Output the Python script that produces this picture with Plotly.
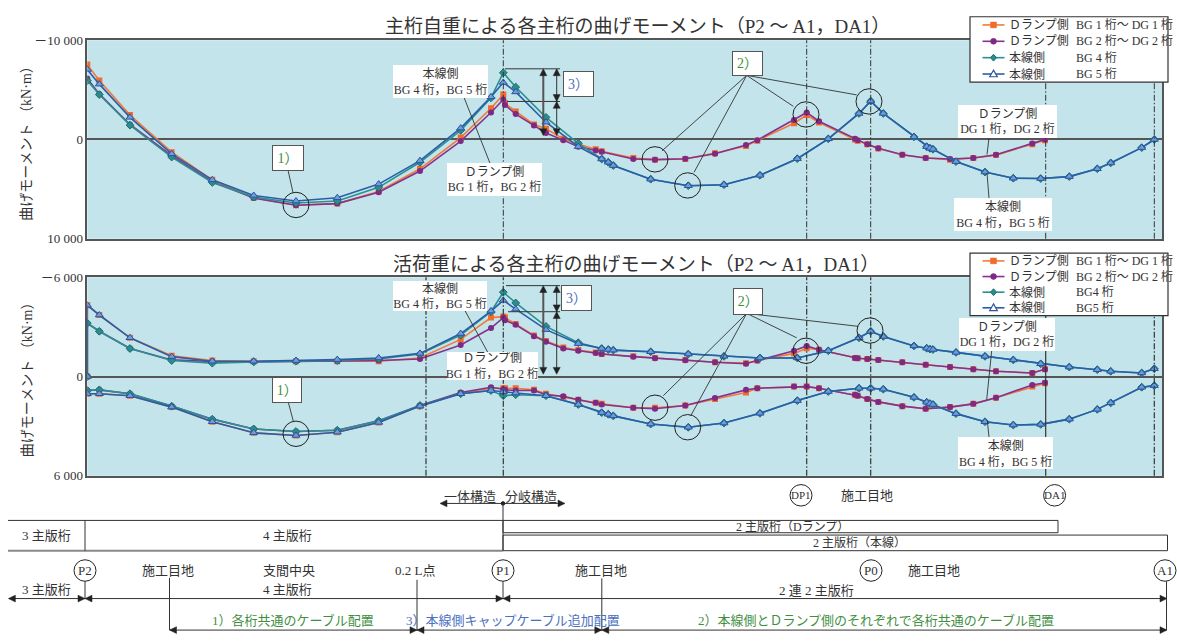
import plotly.graph_objects as go

W, H = 1177, 642
FONT = "Liberation Serif, 'Noto Sans CJK JP', serif"
TXT = "#333333"
GREEN = "#3f8f3f"
BLUE_T = "#4a70c0"

# ---------------- data (positions along the bridge) -------------
XD = [87.3, 99.3, 130, 171.7, 212.3, 253.7, 296, 337.3, 378.7, 420, 460.7, 491, 503.3, 505,
      515.7, 534, 546, 563.3, 578.3, 595.7, 601.7, 633.3, 655, 685.3, 715, 746, 757.3, 794,
      806.7, 819, 855, 857.7, 867.3, 878.3, 902.3, 925.7, 950, 973.3, 996, 1032.3, 1045]
XM = [87.3, 99.3, 130, 171.7, 212.3, 253.7, 296, 337.3, 378.7, 420, 460.7, 491, 503.3, 515.7,
      546, 578.3, 601.7, 608.3, 613.3, 650.7, 688.3, 724, 760, 797.3, 828.3, 859, 870.7, 883.3,
      914, 926.7, 930, 933, 956, 985, 1013.3, 1040.7, 1069.3, 1097.3, 1110.7, 1141.7, 1154.3]

# dead load (main girder self weight) bending moment, kN·m
DL_BG1 = [-7541, -5934, -2459, 1279, 4066, 5869, 6623, 6459, 5246, 2950, -197, -3148, -4525, -3639,
          -2820, -1508, -1082, -66, 459, 984, 1180, 1869, 2033, 1967, 1377, 656, 131, -1639,
          -2459, -1705, 0, 131, 492, 918, 1541, 1869, 2033, 1869, 1574, 492, 66]
DL_BG2 = [-6131, -4590, -1508, 1639, 4262, 5902, 6623, 6459, 5311, 3180, 164, -2721, -4033, -3475,
          -2557, -1410, -656, 66, 721, 1115, 1246, 1967, 2033, 1934, 1443, 557, 66, -1967,
          -2721, -1836, -66, 66, 492, 885, 1541, 1869, 1967, 1869, 1541, 393, 0]
DL_BG4 = [-5934, -4525, -1443, 1770, 4328, 5803, 6393, 6197, 4820, 2295, -918, -4197, -6721, -5279,
          -2230, 393, 1967, 2295, 2623, 4000, 4656, 4557, 3607, 1934, -66, -2623, -3869, -2623,
          -262, 721, 885, 984, 2230, 3279, 3902, 3934, 3738, 2951, 2361, 820, 0]
DL_BG5 = [-7049, -5574, -2230, 1443, 4066, 5639, 6197, 5869, 4492, 2131, -1148, -4295, -5738, -4787,
          -1738, 721, 1967, 2295, 2623, 4000, 4656, 4557, 3607, 1934, -66, -2623, -3869, -2623,
          -262, 721, 885, 984, 2230, 3279, 3902, 3934, 3738, 2951, 2361, 820, 0]

# live load envelopes (negative side / positive side), kN·m
LL_BG1_NEG = [-4308, -3718, -2341, -1259, -964, -925, -925, -925, -925, -1121, -2243, -3561, -3620, -3560,
              -3167, -2479, -2150, -1751, -1600, -1456, -1357, -1220, -1121, -1003, -866, -807, -964, -1397,
              -1711, -1613, -1121, -1100, -1062, -1003, -866, -708, -570, -433, -315, -216, -433]
LL_BG2_NEG = [-3226, -2734, -1692, -1003, -905, -885, -905, -925, -964, -1062, -1908, -2931, -3561, -3400,
              -3128, -2439, -2100, -1692, -1550, -1420, -1357, -1200, -1100, -984, -866, -767, -964, -1554,
              -1849, -1613, -1121, -1100, -1062, -1003, -866, -708, -570, -433, -315, -216, -433]
LL_BG4_NEG = [-3226, -2734, -1692, -964, -807, -885, -925, -964, -1062, -1357, -2498, -3915, -5095, -4446,
              -3030, -2046, -1692, -1633, -1593, -1495, -1357, -1220, -1121, -1121, -1554, -2341, -2734, -2420,
              -1849, -1711, -1652, -1633, -1456, -1220, -1003, -767, -570, -413, -315, -216, -472]
LL_BG5_NEG = [-4308, -3718, -2341, -1200, -925, -925, -964, -1023, -1121, -1397, -2597, -3954, -4603, -4072,
              -2833, -1987, -1692, -1633, -1593, -1495, -1357, -1220, -1121, -1121, -1554, -2341, -2734, -2420,
              -1849, -1711, -1652, -1633, -1456, -1220, -1003, -767, -570, -413, -315, -216, -472]
LL_BG1_POS = [1043, 1043, 1161, 1849, 2734, 3403, 3561, 3364, 2774, 1790, 1003, 708, 708, 708,
              708, 807, 1043, 1239, 1400, 1593, 1652, 1889, 1889, 1751, 1357, 964, 708, 610,
              610, 708, 1102, 1161, 1357, 1534, 1790, 1948, 1849, 1652, 1279, 610, 413]
LL_BG2_POS = [846, 807, 1043, 1790, 2577, 3167, 3325, 3246, 2675, 1751, 964, 649, 767, 800,
              846, 846, 1102, 1200, 1400, 1593, 1692, 1889, 1948, 1751, 1298, 807, 708, 610,
              610, 708, 1102, 1161, 1357, 1534, 1790, 1948, 1849, 1652, 1279, 511, 374]
LL_BG4_POS = [846, 807, 1043, 1790, 2577, 3167, 3325, 3246, 2675, 1751, 1043, 846, 1161, 1100,
              1161, 1692, 2184, 2282, 2380, 2872, 3069, 2813, 2223, 1456, 905, 708, 708, 767,
              1259, 1554, 1633, 1692, 2243, 2734, 2931, 2892, 2577, 1987, 1593, 649, 551]
LL_BG5_POS = [1043, 1043, 1161, 1849, 2734, 3403, 3561, 3364, 2774, 1790, 1043, 846, 925, 1000,
              1161, 1692, 2184, 2282, 2380, 2872, 3069, 2813, 2223, 1456, 905, 708, 708, 767,
              1259, 1554, 1633, 1692, 2243, 2734, 2931, 2892, 2577, 1987, 1593, 649, 551]

SUPPORT_LINES_TOP = [503.3, 806.7, 870.7, 1045.7, 1154.3]
SUPPORT_LINES_BOT = [426, 503.3, 806.7, 870.7, 1045.7, 1154.3]

SIDES = ["Ｄランプ側", "Ｄランプ側", "本線側", "本線側"]
GIRDERS_TOP = ["BG 1 桁～ DG 1 桁", "BG 2 桁～ DG 2 桁", "BG 4 桁", "BG 5 桁"]
GIRDERS_BOT = ["BG 1 桁～ DG 1 桁", "BG 2 桁～ DG 2 桁", "BG4 桁", "BG5 桁"]

LINE_COLORS = ["#f37a3a", "#86338e", "#2a9090", "#2b5ea8"]
MARK_COLORS = ["#f26b2a", "#7d2a86", "#2a8c8c", "#6f9ddc"]
MARK_EDGES = ["#f26b2a", "#7d2a86", "#1f6f70", "#2a55a0"]
SYMBOLS = ["square", "circle", "diamond", "triangle-up"]
SIZES = [6, 6, 6, 7]

# ---------------- helpers ------------------------------------------------------------
def P(x):
    return x / W


def Q(y):
    return 1 - y / H


shapes = []
ann = []


def line(x0, y0, x1, y1, color=TXT, width=1, dash="solid"):
    shapes.append(dict(type="line", xref="paper", yref="paper", x0=P(x0), y0=Q(y0), x1=P(x1), y1=Q(y1),
                       line=dict(color=color, width=width, dash=dash), layer="above"))


def poly(pts, fill, edge, width=0.5):
    path = "M " + " L ".join(f"{P(a):.5f},{Q(b):.5f}" for a, b in pts) + " Z"
    shapes.append(dict(type="path", xref="paper", yref="paper", path=path, fillcolor=fill,
                       line=dict(color=edge, width=width), layer="above"))


def head(x, y, d, L=7, h=3.5, color="#222"):
    if d == "r":
        pts = [(x, y), (x - L, y - h), (x - L, y + h)]
    elif d == "l":
        pts = [(x, y), (x + L, y - h), (x + L, y + h)]
    elif d == "u":
        pts = [(x, y), (x - h, y + L), (x + h, y + L)]
    else:
        pts = [(x, y), (x - h, y - L), (x + h, y - L)]
    poly(pts, color, color)


def circle(cx, cy, r, color="#222", width=1, fill=None):
    shapes.append(dict(type="circle", xref="paper", yref="paper", x0=P(cx - r), x1=P(cx + r),
                       y0=Q(cy + r), y1=Q(cy - r), line=dict(color=color, width=width),
                       fillcolor=fill if fill else "rgba(0,0,0,0)", layer="above"))


def rect(x0, y0, x1, y1, color=TXT, width=1, fill=None):
    shapes.append(dict(type="rect", xref="paper", yref="paper", x0=P(x0), x1=P(x1), y0=Q(y1), y1=Q(y0),
                       line=dict(color=color, width=width),
                       fillcolor=fill if fill else "rgba(0,0,0,0)", layer="above"))


def text(x, y, s, size=13, color=TXT, xanchor="center"):
    ann.append(dict(xref="paper", yref="paper", x=P(x), y=Q(y), text=s, showarrow=False,
                    xanchor=xanchor, yanchor="middle", font=dict(family=FONT, size=size, color=color)))


def box(x0, y0, x1, y1, s, size=12, color=TXT, border=None):
    ann.append(dict(xref="paper", yref="paper", x=P((x0 + x1) / 2), y=Q((y0 + y1) / 2), text=s,
                    showarrow=False, xanchor="center", yanchor="middle", width=x1 - x0, height=y1 - y0,
                    bgcolor="white", borderpad=0, bordercolor=border if border else "rgba(0,0,0,0)",
                    borderwidth=1 if border else 0, align="center",
                    font=dict(family=FONT, size=size, color=color)))


def legend_key(i, cx, cy):
    line(cx - 11, cy, cx + 11, cy, color=LINE_COLORS[i], width=1.6)
    f, e = MARK_COLORS[i], MARK_EDGES[i]
    if SYMBOLS[i] == "square":
        poly([(cx - 3, cy - 3), (cx + 3, cy - 3), (cx + 3, cy + 3), (cx - 3, cy + 3)], f, e)
    elif SYMBOLS[i] == "circle":
        circle(cx, cy, 3, color=e, width=0.5, fill=f)
    elif SYMBOLS[i] == "diamond":
        poly([(cx, cy - 3.5), (cx + 3, cy), (cx, cy + 3.5), (cx - 3, cy)], f, e, 1)
    else:
        poly([(cx, cy - 4), (cx + 3.8, cy + 2.8), (cx - 3.8, cy + 2.8)], "white", e, 1.2)


def legend_box(y0, y1, girders):
    rect(970, y0, 1168, y1, color="#333", width=1.2, fill="white")
    step = (y1 - y0) / 4
    for i in range(4):
        cy = y0 + step * (i + 0.5)
        legend_key(i, 993.5, cy)
        text(1007, cy, SIDES[i], size=12, xanchor="left")
        text(1074, cy, girders[i], size=12, xanchor="left")


# ---------------- traces -------------------------------------------------------------
def style(i):
    return dict(line=dict(color=LINE_COLORS[i], width=1.6),
                marker=dict(symbol=SYMBOLS[i], size=SIZES[i], color=MARK_COLORS[i],
                            line=dict(color=MARK_EDGES[i], width=1 if i >= 2 else 0)))


fig = go.Figure()
top_sets = [(XD, DL_BG1), (XD, DL_BG2), (XM, DL_BG4), (XM, DL_BG5)]
for i, (xs, ys) in enumerate(top_sets):
    fig.add_trace(go.Scatter(x=xs, y=ys, mode="lines+markers", name=SIDES[i] + " " + GIRDERS_TOP[i],
                             xaxis="x", yaxis="y", **style(i)))

bot_sets = [(XD, LL_BG1_NEG, LL_BG1_POS), (XD, LL_BG2_NEG, LL_BG2_POS),
            (XM, LL_BG4_NEG, LL_BG4_POS), (XM, LL_BG5_NEG, LL_BG5_POS)]
for i, (xs, neg, pos) in enumerate(bot_sets):
    fig.add_trace(go.Scatter(x=[xs[0]] + xs, y=[0] + neg, mode="lines+markers",
                             name=SIDES[i] + " " + GIRDERS_BOT[i], xaxis="x2", yaxis="y2", **style(i)))
for i, (xs, neg, pos) in enumerate(bot_sets):
    fig.add_trace(go.Scatter(x=xs, y=pos, mode="lines+markers", name=SIDES[i] + " " + GIRDERS_BOT[i],
                             xaxis="x2", yaxis="y2", **style(i)))

# support lines in the charts
for xv in SUPPORT_LINES_TOP:
    shapes.append(dict(type="line", xref="x", yref="y domain", x0=xv, x1=xv, y0=0, y1=1,
                       line=dict(color="#333", width=1, dash="6px,2px,1.5px,2px"), layer="above"))
for xv in SUPPORT_LINES_BOT:
    dash = "solid" if xv == 1045.7 else "6px,2px,1.5px,2px"
    shapes.append(dict(type="line", xref="x2", yref="y2 domain", x0=xv, x1=xv, y0=0, y1=1,
                       line=dict(color="#333", width=1.2, dash=dash), layer="above"))

# ---------------- titles / axis titles -----------------------------------------------
text(637, 20, "主桁自重による各主桁の曲げモーメント（P2 ～ A1，DA1）", size=19)
text(636, 264, "活荷重による各主桁の曲げモーメント（P2 ～ A1，DA1）", size=19)
for yc in (136, 378):
    ann.append(dict(xref="paper", yref="paper", x=P(27), y=Q(yc), text="曲げモーメント （kN·m）",
                    textangle=-90, showarrow=False, xanchor="center", yanchor="middle",
                    font=dict(family=FONT, size=14, color=TXT)))

# ---------------- callouts: top chart ------------------------------------------------
line(463, 90, 490, 160, width=0.9)
box(393, 60, 488, 93, "本線側<br>BG 4 桁，BG 5 桁", size=12)
box(447, 160, 542, 193, "Ｄランプ側<br>BG 1 桁，BG 2 桁", size=12)
line(505, 63.3, 560, 63.3, width=1)
line(507, 96.7, 560, 96.7, width=1)
line(543.3, 66, 543.3, 129, color="#555", width=2)
head(543.3, 63.3, "u"); head(543.3, 131.7, "d")
line(556.7, 66, 556.7, 129, width=1)
head(556.7, 63.3, "u"); head(556.7, 96.7, "d"); head(556.7, 96.7, "u"); head(556.7, 131.7, "d")
box(564, 67, 593, 91, "3）", size=14, color=BLUE_T, border="#555")
line(288, 167, 293, 190, width=0.9)
circle(296, 202.7, 13)
box(272.7, 143, 302.7, 167, "1）", size=14, color=GREEN, border="#555")
for ex, ey in [(662, 147.3), (694, 169.3), (793.3, 101.7), (856.7, 90)]:
    line(746.7, 70, ex, ey, width=0.9)
for cx, cy in [(655, 156), (687.7, 182.7), (806, 110), (869, 96.7)]:
    circle(cx, cy, 13)
box(733, 46.7, 762, 70, "2）", size=14, color=GREEN, border="#555")
line(989, 134, 987, 151, width=0.9)
box(958, 101, 1057, 134, "Ｄランプ側<br>DG 1 桁，DG 2 桁", size=12)
line(989, 195.7, 987, 170, width=0.9)
box(954, 195.7, 1052, 229, "本線側<br>BG 4 桁，BG 5 桁", size=12)
legend_box(10, 77, GIRDERS_TOP)

# ---------------- callouts: bottom chart ---------------------------------------------
line(465, 311, 488, 354, width=0.9)
box(393, 281.3, 487, 311.3, "本線側<br>BG 4 桁，BG 5 桁", size=12)
box(446.7, 353.7, 537.3, 382, "Ｄランプ側<br>BG 1 桁，BG 2 桁", size=12)
line(506, 285.3, 560, 285.3, width=1)
line(508, 312, 560, 312, width=1)
line(543.3, 288, 543.3, 373, color="#555", width=2)
head(543.3, 285.3, "u"); head(543.3, 376, "d")
line(556.7, 288, 556.7, 373, width=1)
head(556.7, 285.3, "u"); head(556.7, 312, "d"); head(556.7, 312, "u"); head(556.7, 376, "d")
box(561.7, 286, 590.7, 310.3, "3）", size=14, color=BLUE_T, border="#555")
line(288.3, 404.7, 293.3, 424, width=0.9)
circle(296, 437, 13)
box(272.7, 380.3, 301, 404.7, "1）", size=14, color=GREEN, border="#555")
for ex, ey in [(663.3, 398), (690.7, 418.7), (796.7, 338.7), (858.3, 327)]:
    line(746.7, 313.7, ex, ey, width=0.9)
for cx, cy in [(655, 410.3), (687.7, 430.3), (806, 352), (870, 331.3)]:
    circle(cx, cy, 13)
box(733.3, 288.7, 761.7, 313.7, "2）", size=14, color=GREEN, border="#555")
line(991.7, 352, 986.7, 402, width=0.9)
box(959, 319.3, 1055, 352, "Ｄランプ側<br>DG 1 桁，DG 2 桁", size=12)
line(989, 440.3, 987.3, 423.7, width=0.9)
box(957.3, 440.3, 1052.7, 472.7, "本線側<br>BG 4 桁，BG 5 桁", size=12)
legend_box(252, 316, GIRDERS_BOT)

# ---------------- structure diagram below the charts --------------------------------
text(470, 501.5, "一体構造", size=13)
text(531, 501.5, "分岐構造", size=13)
line(441, 508.3, 563, 508.3)
head(440, 508.3, "l"); head(565, 508.3, "r")
circle(503, 508.3, 1.8, fill="#222")
line(503, 508.3, 503, 556.7)
line(8, 525.7, 503, 525.7)
line(8, 556.7, 503, 556.7, color="#888", width=2)
line(85, 525.7, 85, 556.7)
text(46, 541.5, "3 主版桁", size=13)
text(287, 541.5, "4 主版桁", size=13)
rect(503, 525.7, 1058, 538.3, width=1)
rect(503, 540.7, 1167.5, 556.7, width=1)
text(792, 532, "2 主版桁（Dランプ）", size=12)
text(859, 548.7, "2 主版桁（本線）", size=12)

circle(801, 500, 11)
text(801, 500, "DP1", size=11)
text(867, 500, "施工目地", size=13)
circle(1054.6, 500, 11)
text(1054.6, 500, "DA1", size=11)

for cx, lab in [(85, "P2"), (503, "P1"), (871, "P0"), (1165, "A1")]:
    circle(cx, 577, 11)
    text(cx, 577, lab, size=13)
text(168.4, 577, "施工目地", size=13)
text(289, 577, "支間中央", size=13)
text(415, 577, "0.2 L点", size=13)
text(601, 577, "施工目地", size=13)
text(934, 577, "施工目地", size=13)

text(46, 596.5, "3 主版桁", size=13)
text(287, 596.5, "4 主版桁", size=13)
text(817, 597.5, "2 連 2 主版桁", size=13)
line(9, 605.7, 1166, 605.7)
head(8.4, 605.7, "l")
head(85, 605.7, "r"); head(85, 605.7, "l")
head(503, 605.7, "r"); head(503, 605.7, "l")
head(1167, 605.7, "r")
line(85, 588, 85, 605.7)
line(503, 588, 503, 605.7)
line(1166.5, 588, 1166.5, 638)
line(169.5, 584.5, 169.5, 638)
line(417, 586.5, 417, 638)
line(601.8, 585, 601.8, 638)
line(170, 638, 1166, 638)
head(169.5, 638, "l")
head(417, 638, "r"); head(417, 638, "l")
head(601.8, 638, "r"); head(601.8, 638, "l")
head(1167, 638, "r")
text(293, 628.3, "1）各桁共通のケーブル配置", size=13, color=GREEN)
text(513, 628.3, "3）本線側キャップケーブル追加配置", size=13, color=BLUE_T)
text(876, 628.3, "2）本線側とＤランプ側のそれぞれで各桁共通のケーブル配置", size=13, color=GREEN)

# ---------------- layout -------------------------------------------------------------
XR = [87.3, 1162]
axis_common = dict(showgrid=False, showline=True, linecolor="#555", linewidth=1.5, mirror=True, ticks="")

fig.update_layout(
    width=W, height=H, margin=dict(l=0, r=0, t=0, b=0),
    paper_bgcolor="white", plot_bgcolor="#c3e4ea",
    showlegend=False,
    xaxis=dict(domain=[P(87.3), P(1162)], range=XR, anchor="y", showticklabels=False, zeroline=False,
               **axis_common),
    yaxis=dict(domain=[Q(237.3), Q(34)], range=[10000, -10000], anchor="x",
               tickvals=[-10000, 0, 10000], ticktext=["－10 000", "0", "10 000"],
               zeroline=True, zerolinecolor="#555", zerolinewidth=1.5,
               tickfont=dict(family=FONT, size=13, color=TXT), **axis_common),
    xaxis2=dict(domain=[P(87.3), P(1162)], range=XR, anchor="y2", showticklabels=False, zeroline=False,
                **axis_common),
    yaxis2=dict(domain=[Q(480), Q(276.7)], range=[6000, -6000], anchor="x2",
                tickvals=[-6000, 0, 6000], ticktext=["－6 000", "0", "6 000"],
                zeroline=True, zerolinecolor="#555", zerolinewidth=1.5,
                tickfont=dict(family=FONT, size=13, color=TXT), **axis_common),
    shapes=shapes,
    annotations=ann,
)

fig.write_html("out.html")
